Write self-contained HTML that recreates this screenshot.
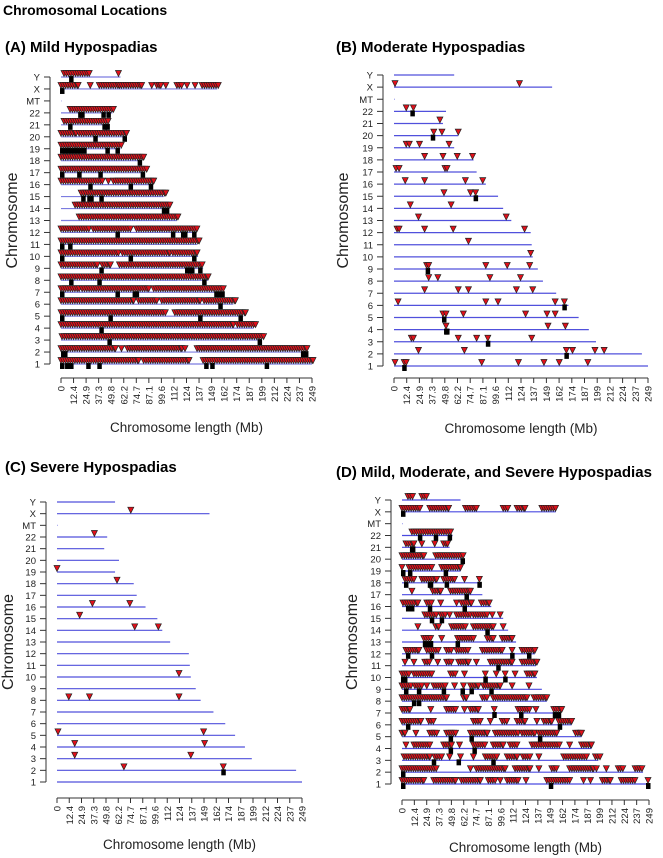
<!DOCTYPE html>
<html><head><meta charset="utf-8">
<style>
html,body{margin:0;padding:0;background:#fff;}
svg{display:block;font-family:"Liberation Sans",Arial,sans-serif;}
</style></head>
<body>
<svg id="chart" width="663" height="858" viewBox="0 0 663 858" xmlns="http://www.w3.org/2000/svg">
<text x="3" y="15" font-size="14" font-weight="bold">Chromosomal Locations</text>
</svg>
<script>
// ---- shared data ----
const chromNames = ["1","2","3","4","5","6","7","8","9","10","11","12","13","14","15","16","17","18","19","20","21","22","MT","X","Y"];
const chromLengths = [249,243,198,191,181,171,159,146,141,136,135,134,115,107,102,90,81,78,59,63,48,51,0.5,155,59];
const tickLabels = ["0","12.4","24.9","37.3","49.8","62.2","74.7","87.1","99.6","112","124","137","149","162","174","187","199","212","224","237","249"];
const tickValues = [0,12.45,24.9,37.35,49.8,62.25,74.7,87.15,99.6,112.05,124.5,136.95,149.4,161.85,174.3,186.75,199.2,211.65,224.1,236.55,249];

// ---- Panel A (mild): marker runs [start,end] in Mb per chromosome ----
const mildRuns = {
 "Y":[[3,28],[57,57]],
 "X":[[0,17],[29,29],[38,58],[60,80],[90,90],[95,99],[104,104],[115,120],[125,125],[133,133],[140,156]],
 "22":[[9,52]],"21":[[3,47]],"20":[[0,15],[18,65]],"19":[[0,60]],"18":[[0,82]],"17":[[0,85]],
 "16":[[0,41],[47,47],[52,92]],"15":[[20,104]],"14":[[14,108]],"13":[[18,116]],
 "12":[[0,28],[32,69],[75,135]],"11":[[0,137]],"10":[[0,57],[61,108],[111,135]],
 "9":[[0,36],[41,49],[58,140]],"8":[[0,146]],"7":[[0,18],[21,87],[92,161]],
 "6":[[0,72],[77,95],[100,138],[142,173]],"5":[[0,104],[113,183]],"4":[[0,171],[175,193]],
 "3":[[1,201]],"2":[[0,54],[60,60],[66,120],[123,123],[135,244]],"1":[[0,77],[82,127],[141,250]]
};
const mildSquares = {
 "Y":[10],"X":[1],"22":[19,21,42,47],"21":[9,43,46],"20":[34,63],"19":[1,4,7,10,13,16,19,23,46,56],
 "18":[78],"17":[1,18,39,81],"16":[29,69,89],"15":[22,28,30,40],"14":[102,105],"12":[56,111,121,123,132],
 "11":[1,9],"10":[1,69,132],"9":[40,125,128,130,138],"8":[10,38,142],"7":[1,56,73,75,154,157,160],
 "6":[158],"5":[1,49,138,178],"4":[40],"3":[48,197],"2":[2,4,240,243],"1":[1,6,10,27,38,144,150,204]
};

// ---- Panel B (moderate): individual markers ----
const moderateMarkers = {
 "X":[1,123],"22":[12,19],"21":[45],"20":[39,47,63],"19":[12,15,25,54],"18":[30,48,62,77],
 "17":[2,5,50,52],"16":[11,30,70,87],"15":[49,75,80],"14":[16,56],"13":[24,110],
 "12":[3,5,30,58,128],"11":[73],"10":[134],"9":[32,34,90,111,133],"8":[34,43,94,124],
 "7":[30,63,73,120,136],"6":[4,90,102,158,167],"5":[48,51,68,129,150,158],"4":[51,151,168],
 "3":[17,19,63,81,92,135],"2":[24,69,169,175,197,206],"1":[1,10,12,86,122,147,162,190]
};
const moderateSquares = {"22":[18],"20":[38],"15":[80],"9":[33],"6":[167],"5":[49],"4":[51,52],"3":[92],"2":[169],"1":[10]};

// ---- Panel C (severe) ----
const severeMarkers = {
 "X":[75],"22":[38],"19":[0],"18":[61],"16":[36,74],"15":[23],"14":[79,103],"10":[124],
 "8":[12,33,124],"5":[1,149],"4":[18,150],"3":[18,136],"2":[68,169]
};
const severeSquares = {"2":[169]};

// ---- Panel D (combined): runs ----
const allRuns = {
 "Y":[[6,11],[20,25]],
 "X":[[0,18],[28,47],[64,75],[102,107],[116,124],[141,155]],
 "22":[[10,49]],"21":[[4,12],[20,20],[33,33],[42,46]],"20":[[0,22],[34,62]],
 "19":[[0,0],[7,30],[40,59]],"18":[[3,12],[20,35],[42,53],[63,63],[78,78]],
 "17":[[10,10],[31,39],[49,69]],"16":[[1,16],[25,30],[39,39],[55,55],[60,70],[80,88]],
 "15":[[23,35],[39,44],[48,48],[55,69],[72,86],[91,91],[99,99]],
 "14":[[16,16],[34,37],[50,64],[72,92],[102,102]],
 "13":[[22,29],[40,40],[56,72],[86,92],[101,111]],
 "12":[[4,17],[25,37],[45,50],[55,67],[81,101],[111,111],[121,134]],
 "11":[[3,3],[12,12],[23,28],[36,36],[45,50],[57,67],[75,75],[89,111],[121,136]],
 "10":[[0,7],[12,30],[49,54],[63,63],[84,84],[95,95],[104,104],[114,114],[126,134]],
 "9":[[0,9],[13,20],[25,25],[32,44],[53,53],[62,62],[69,77],[82,99],[111,111],[128,128]],
 "8":[[0,45],[62,65],[81,86],[92,126],[133,146]],
 "7":[[0,8],[29,29],[45,54],[63,63],[69,77],[93,93],[117,129],[135,135],[153,161]],
 "6":[[0,19],[27,32],[72,79],[89,89],[101,106],[116,124],[136,136],[143,151],[158,171]],
 "5":[[0,3],[14,14],[28,35],[45,54],[69,86],[94,117],[121,134],[138,156],[175,181]],
 "4":[[4,4],[12,28],[42,50],[58,58],[72,84],[92,102],[109,116],[131,159],[169,169],[181,191]],
 "3":[[2,28],[33,40],[48,48],[59,59],[72,72],[84,96],[106,116],[122,129],[138,138],[163,186],[195,200]],
 "2":[[0,35],[69,69],[75,104],[114,129],[138,138],[151,156],[169,193],[196,196],[206,206],[218,223],[235,242]],
 "1":[[0,22],[32,54],[60,79],[87,94],[99,99],[106,117],[125,125],[146,169],[183,183],[190,190],[202,210],[221,235],[248,248]]
};
const allSquares = {
 "X":[1],"22":[18,34,48],"21":[10,11],"20":[61],"19":[1,8,44],"18":[4,28,29,45,78],"17":[65],
 "16":[6,10,28,63],"15":[30,40],"14":[86],"13":[23,25,27,29,56],"12":[6,30,111,128],"11":[97],
 "10":[1,3,84,104],"9":[4,17,42,61,70,90],"8":[12,17],"7":[93,120,154,156,158],"6":[6,159],
 "5":[49,70,139],"4":[49,73],"3":[32,57,92],"2":[1],"1":[1,150,248]
};

// ---- geometry (layout only) ----
const panels = [
 {id:"a", title:"(A) Mild Hypospadias", tx:5, ty:52, x0:61, x1:312, yTop:77, yBot:364, axX:50, xAxY:378, xlabY:432, ylabX:17, runs:mildRuns, pts:null, sq:mildSquares, lineCol:"#7c7ce0"},
 {id:"b", title:"(B) Moderate Hypospadias", tx:336, ty:52, x0:394, x1:648, yTop:75, yBot:366, axX:383, xAxY:378, xlabY:433, ylabX:348, runs:null, pts:moderateMarkers, sq:moderateSquares, lineCol:"#5050dc"},
 {id:"c", title:"(C) Severe Hypospadias", tx:5, ty:472, x0:57, x1:302, yTop:502, yBot:782, axX:46, xAxY:798, xlabY:849, ylabX:13, runs:null, pts:severeMarkers, sq:severeSquares, lineCol:"#5050dc"},
 {id:"d", title:"(D) Mild, Moderate, and Severe Hypospadias", tx:336, ty:477, x0:402, x1:649, yTop:500, yBot:784, axX:391, xAxY:800, xlabY:852, ylabX:357, runs:allRuns, pts:null, sq:allSquares, lineCol:"#4a4ae0"}
];

const NS="http://www.w3.org/2000/svg";
const svg=document.getElementById("chart");
function mk(tag,attrs,parent){const e=document.createElementNS(NS,tag);for(const k in attrs)e.setAttribute(k,attrs[k]);(parent||svg).appendChild(e);return e;}

panels.forEach(p=>{
  const g=mk("g",{});
  
  
  const xs=v=>p.x0+(v/249)*(p.x1-p.x0);
  const ys=i=>p.yBot-i*(p.yBot-p.yTop)/24;
  const t=mk("text",{x:p.tx,y:p.ty,"font-size":15,"font-weight":"bold"},g);
  t.textContent=p.title;
  
  
  const ya=mk("line",{x1:p.axX,x2:p.axX,y1:p.yTop,y2:p.yBot,stroke:"#333","stroke-width":1},g);
  
  
  chromNames.forEach((n,i)=>{
    const y=ys(i);
    mk("line",{x1:p.axX-6,x2:p.axX,y1:y,y2:y,stroke:"#333","stroke-width":1},g);
    const lb=mk("text",{x:p.axX-10,y:y+3.5,"font-size":9.5,"text-anchor":"end",fill:"#222"},g);
    lb.textContent=n;
    
    
    const ln=mk("line",{x1:xs(0),x2:xs(chromLengths[i]),y1:y,y2:y,stroke:p.lineCol,"stroke-width":1.2},g);
    
    
  });
  const xa=mk("line",{x1:xs(0),x2:xs(249),y1:p.xAxY,y2:p.xAxY,stroke:"#333","stroke-width":1},g);
  
  
  tickValues.forEach((v,k)=>{
    const x=xs(v);
    mk("line",{x1:x,x2:x,y1:p.xAxY,y2:p.xAxY+5,stroke:"#333","stroke-width":1},g);
    const tl=mk("text",{x:0,y:0,"font-size":9.5,"text-anchor":"end",fill:"#222",transform:`translate(${x+3.5},${p.xAxY+8}) rotate(-90)`},g);
    tl.textContent=tickLabels[k];
    
    
  });
  const xl=mk("text",{x:(xs(0)+xs(249))/2,y:p.xlabY,"font-size":13.5,"text-anchor":"middle",fill:"#222"},g);
  xl.textContent="Chromosome length (Mb)";
  
  
  const yc=(p.yTop+p.yBot)/2;
  const yl=mk("text",{x:0,y:0,"font-size":16,"text-anchor":"middle",fill:"#222",transform:`translate(${p.ylabX},${yc}) rotate(-90)`},g);
  yl.textContent="Chromosome";
  
  

  function tri(v,i){
    const x=xs(v),y=ys(i);
    const tr=mk("path",{d:`M${x-3} ${y-6.5}L${x+3} ${y-6.5}L${x} ${y-0.5}Z`,fill:"#e0101a",stroke:"#222","stroke-width":0.7},g);
    
    
  }
  chromNames.forEach((n,i)=>{
    (p.sq[n]||[]).forEach(v=>{
      const r=mk("rect",{x:xs(v)-2,y:ys(i)-1,width:4.5,height:6,fill:"#000"},g);
      
      
    });
  });
  chromNames.forEach((n,i)=>{
    if(p.runs){
      (p.runs[n]||[]).forEach(r=>{
        const step=2.3;
        for(let v=r[0];v<=r[1]+0.01;v+=step) tri(v,i);
        if((r[1]-r[0])%step>0.6) tri(r[1],i);
      });
    }
    if(p.pts){(p.pts[n]||[]).forEach(v=>tri(v,i));}
  });
});
</script>
</body></html>
